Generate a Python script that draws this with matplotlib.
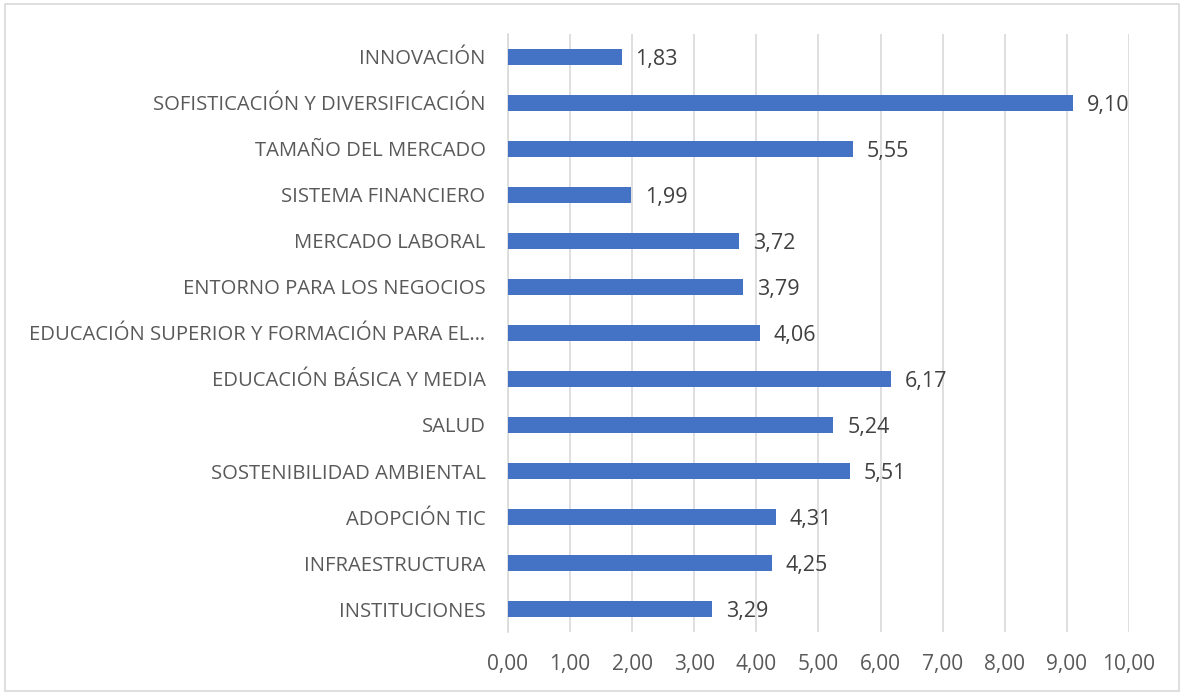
import matplotlib.pyplot as plt
from matplotlib.patches import Rectangle

plt.rcParams['font.family'] = ['Open Sans', 'DejaVu Sans']

categories = ['INSTITUCIONES', 'INFRAESTRUCTURA', 'ADOPCIÓN TIC',
              'SOSTENIBILIDAD AMBIENTAL', 'SALUD', 'EDUCACIÓN BÁSICA Y MEDIA',
              'EDUCACIÓN SUPERIOR Y FORMACIÓN PARA EL…',
              'ENTORNO PARA LOS NEGOCIOS', 'MERCADO LABORAL',
              'SISTEMA FINANCIERO', 'TAMAÑO DEL MERCADO',
              'SOFISTICACIÓN Y DIVERSIFICACIÓN', 'INNOVACIÓN']
values = [3.29, 4.25, 4.31, 5.51, 5.24, 6.17, 4.06, 3.79, 3.72, 1.99, 5.55, 9.10, 1.83]
xticks = [0, 1, 2, 3, 4, 5, 6, 7, 8, 9, 10]

fig = plt.figure(figsize=(11.81, 6.93), dpi=100)
ax = fig.add_axes([0.430, 0.088, 0.526, 0.863])

ypos = range(len(categories))
ax.barh(ypos, values, height=0.35, color='#4472C4', zorder=3)

for y, v in zip(ypos, values):
    ax.annotate(f'{v:.2f}'.replace('.', ','), (v, y), xytext=(10, -2),
                textcoords='offset points', va='center', ha='left',
                fontsize=15.5, color='#404040')

ax.set_xlim(0, 10)
ax.set_ylim(-0.5, 12.5)
ax.set_yticks(list(ypos))
ax.set_yticklabels(categories, fontsize=14.6, color='#595959')
ax.set_xticks(xticks)
ax.set_xticklabels([f'{t:.2f}'.replace('.', ',') for t in xticks],
                   fontsize=15, color='#595959')
ax.tick_params(axis='both', length=0)
ax.tick_params(axis='x', pad=16)
ax.tick_params(axis='y', pad=16)
ax.grid(axis='x', color='#D9D9D9', linewidth=1.2, zorder=0)
for s in ['top', 'right', 'bottom']:
    ax.spines[s].set_visible(False)
ax.spines['left'].set_color('#D9D9D9')
ax.spines['left'].set_linewidth(1.2)

fig.patches.append(Rectangle((0.004, 0.003), 0.994, 0.991, transform=fig.transFigure,
                             fill=False, edgecolor='#D9D9D9', linewidth=1.2))

fig.savefig('out.png', dpi=100)
